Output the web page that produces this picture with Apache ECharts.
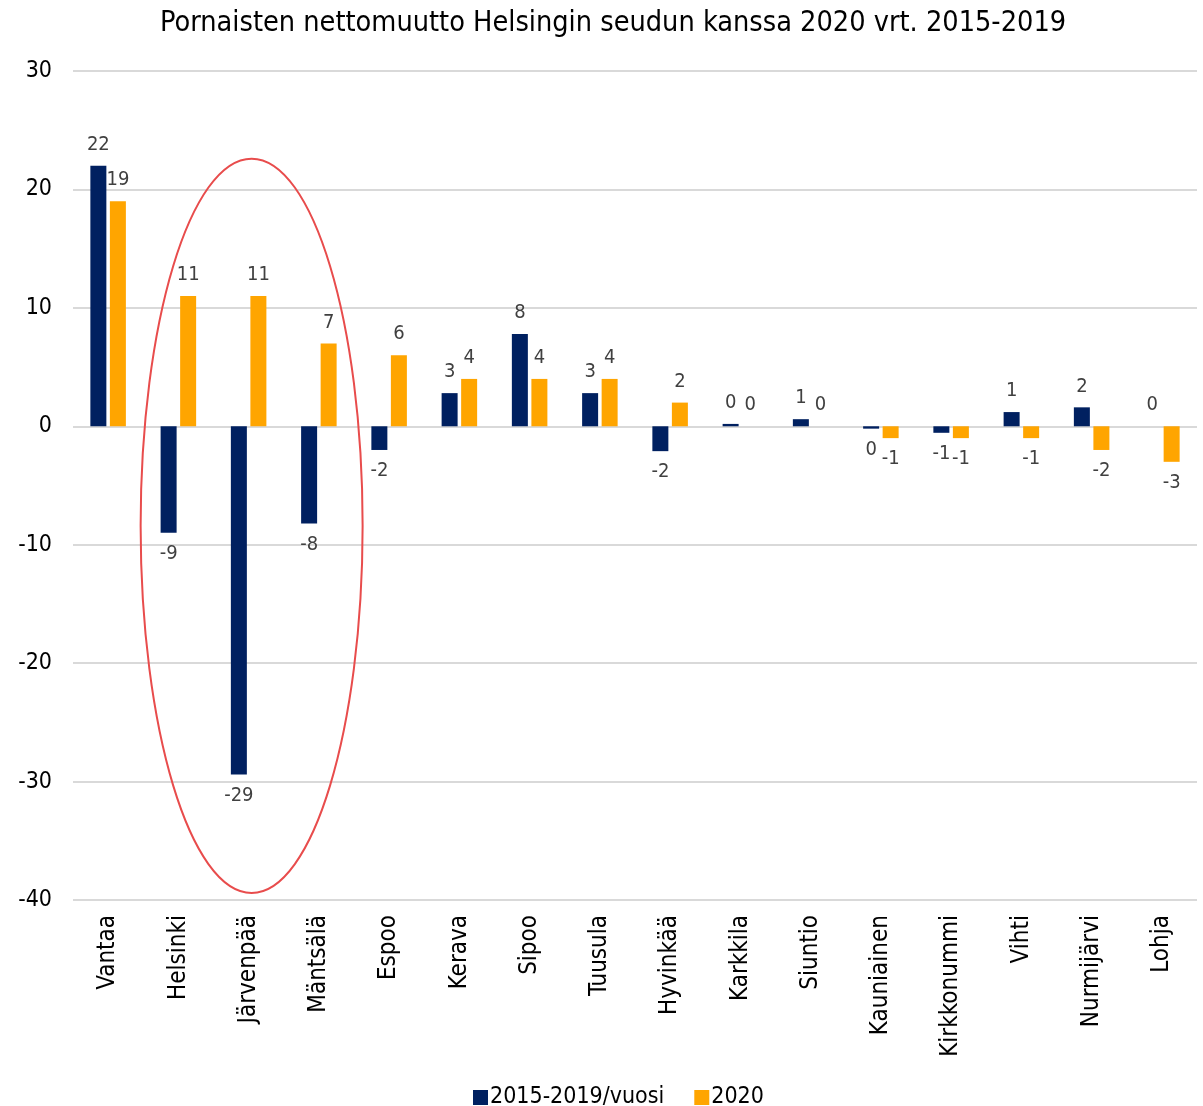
<!DOCTYPE html>
<html><head><meta charset="utf-8">
<script src="https://cdn.jsdelivr.net/npm/echarts@6/dist/echarts.min.js"></script>
<style>html,body{margin:0;padding:0;background:#fff}#c{width:1203px;height:1106px}</style>
</head><body><div id="c"></div>
<script>
const categories = ["Vantaa","Helsinki","Järvenpää","Mäntsälä","Espoo","Kerava","Sipoo","Tuusula","Hyvinkää","Karkkila","Siuntio","Kauniainen","Kirkkonummi","Vihti","Nurmijärvi","Lohja"];
const avg2015_2019 = [22, -9, -29.4, -8.2, -2, 2.8, 7.8, 2.8, -2.1, 0.2, 0.6, -0.2, -0.55, 1.2, 1.6, 0];
const y2020 = [19, 11, 11, 7, 6, 4, 4, 4, 2, 0, 0, -1, -1, -1, -2, -3];
const seriesNames = ["2015-2019/vuosi", "2020"];
const titleText = "Pornaisten nettomuutto Helsingin seudun kanssa 2020 vrt. 2015-2019";

const FONT = "DejaVu Sans Condensed";
function items(arr){
  return arr.map(v => ({value: v, label: {position: v < 0 ? 'bottom' : 'top'}}));
}
const labelStyle = {show: true, distance: 11, color: '#404040', fontSize: 20, fontFamily: FONT,
  formatter: p => { const r = Math.round(p.value); return String(r === 0 ? 0 : r); }};

const chart = echarts.init(document.getElementById('c'));
chart.setOption({
  animation: false,
  textStyle: {fontFamily: FONT},
  title: {text: titleText, left: 155, top: 4,
    textStyle: {fontFamily: FONT, fontSize: 28.6, fontWeight: 'normal', color: '#000'}},
  grid: {left: 73, right: 6, top: 71, bottom: 206},
  legend: {left: 468, top: 1081, icon: 'rect', itemWidth: 15, itemHeight: 15, itemGap: 30,
    textStyle: {fontFamily: FONT, fontSize: 23, color: '#000', padding: [0, 0, 0, -3]},
    data: seriesNames},
  xAxis: {type: 'category', data: categories,
    axisLine: {show: false}, axisTick: {show: false},
    axisLabel: {rotate: 90, interval: 0, margin: 15, fontSize: 24, color: '#000', fontFamily: FONT}},
  yAxis: {type: 'value', min: -40, max: 30, interval: 10,
    axisLine: {show: false}, axisTick: {show: false},
    axisLabel: {margin: 21, fontSize: 23, color: '#000', fontFamily: FONT},
    splitLine: {lineStyle: {color: '#D9D9D9', width: 2}}},
  series: [
    {name: seriesNames[0], type: 'bar', data: items(avg2015_2019), barWidth: 16, barGap: '22%',
      itemStyle: {color: '#002060'}, label: labelStyle},
    {name: seriesNames[1], type: 'bar', data: items(y2020), barWidth: 16,
      itemStyle: {color: '#FFA500'}, label: labelStyle}
  ]
});

// highlight ellipse around Helsinki–Mäntsälä
const c0 = chart.convertToPixel({xAxisIndex: 0}, 'Järvenpää');
const c1 = chart.convertToPixel({xAxisIndex: 0}, 'Mäntsälä');
const band = c1 - c0;
const yTop = chart.convertToPixel({yAxisIndex: 0}, 22.6);
const yBot = chart.convertToPixel({yAxisIndex: 0}, -39.4);
chart.setOption({graphic: [{type: 'ellipse',
  shape: {cx: c0 + 3, cy: (yTop + yBot) / 2, rx: band * 1.58, ry: (yBot - yTop) / 2},
  style: {fill: 'none', stroke: '#E84C4C', lineWidth: 2}, z: 10}]});
</script></body></html>
